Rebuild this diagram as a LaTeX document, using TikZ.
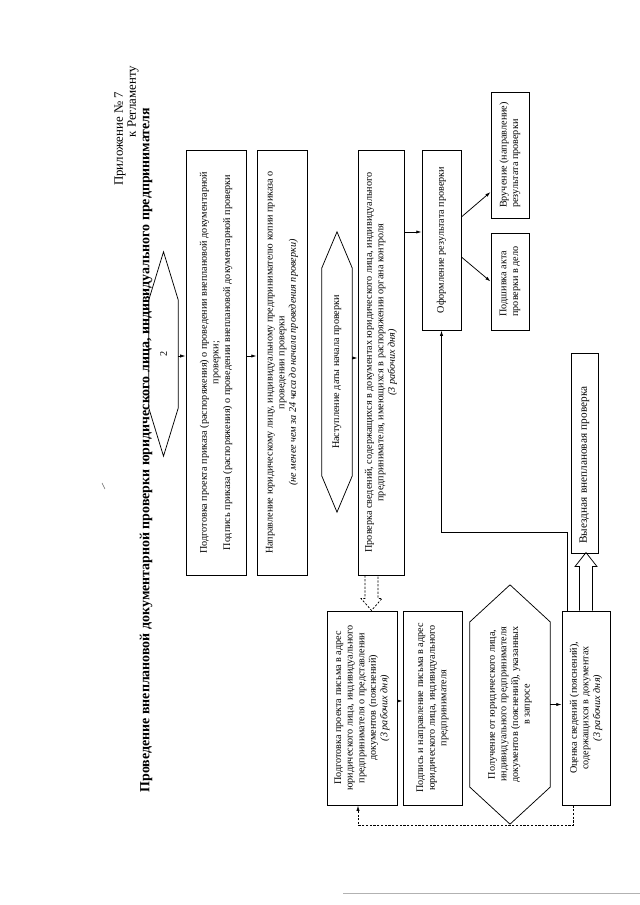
\documentclass[tikz,border=0pt]{standalone}
\usepackage{fontspec}
\setmainfont{Liberation Serif}
\usetikzlibrary{arrows.meta,calc}

\begin{document}
\begin{tikzpicture}[x=0.3281mm, y=0.3281mm, rotate=90, transform shape,
  box/.style={draw, line width=0.7pt, align=center, inner sep=1pt,
    font=\fontsize{9.5}{10.8}\selectfont},
  hexa/.style={align=center, inner sep=1pt, font=\fontsize{9.5}{10.8}\selectfont},
  arr/.style={line width=0.7pt, -{Latex[length=5pt,width=3pt]}},
  dsh/.style={dash pattern=on 2pt off 1.5pt}]
  \useasboundingbox (0,0) rectangle (905,-640);

  % heading
  \node[anchor=east, font=\fontsize{12}{14}\selectfont] (pril) at (817,-120) {Приложение № 7};
  \node[anchor=east, font=\fontsize{12}{14}\selectfont] (regl) at (843,-133) {к Регламенту};
  \node[font=\fontsize{13}{15}\selectfont\bfseries] (title) at (455,-146)
    {Проведение внеплановой документарной проверки юридического лица, индивидуального предпринимателя};

  % upper row
  \node[hexa, minimum width=35.4mm, minimum height=9.5mm] (hexb) at (551,-163.5) {2};
  \node[box, minimum width=139.5mm, minimum height=19.7mm] (prikaz) at (542.5,-216)
    {Подготовка проекта приказа (распоряжения) о проведении внеплановой документарной\\
     проверки;\\
     Подпись приказа (распоряжения) о проведении внеплановой документарной проверки};
  \node[box, minimum width=139.5mm, minimum height=16.4mm] (kopiya) at (542.5,-282)
    {Направление юридическому лицу, индивидуальному предпринимателю копии приказа о\\
     проведении проверки\\
     \textit{(не менее чем за 24 часа до начала проведения проверки)}};
  \node[hexa, minimum width=68.2mm, minimum height=9.8mm] (data) at (533,-337)
    {Наступление даты начала проверки};
  \node[box, minimum width=139.5mm, minimum height=15.1mm] (proverka) at (542.5,-381)
    {Проверка сведений, содержащихся в документах юридического лица, индивидуального\\
     предпринимателя, имеющихся в распоряжении органа контроля\\
     \textit{(3 рабочих дня)}};

  % result
  \node[box, minimum width=59.1mm, minimum height=12.8mm] (oform) at (665,-441.5)
    {Оформление результата проверки};
  \node[box, align=left, minimum width=41.3mm, minimum height=12.5mm] (vruch) at (750,-510)
    {Вручение (направление)\\ результата проверки};
  \node[box, align=left, minimum width=31.8mm, minimum height=12.5mm] (podsh) at (623.5,-510)
    {Подшивка акта\\ проверки в дело};
  \node[box, align=left, inner xsep=3mm, text width=59.6mm, minimum height=8.9mm,
    font=\fontsize{10.5}{12}\selectfont] (vyezd) at (452,-584.5)
    {Выездная внеплановая проверка};

  % request of documents
  \node[box, minimum width=63.7mm, minimum height=23mm] (pismo) at (197,-362)
    {Подготовка проекта письма в адрес\\
     юридического лица, индивидуального\\
     предпринимателя о представлении\\
     документов (пояснений)\\
     \textit{(3 рабочих дня)}};
  \node[box, minimum width=63.7mm, minimum height=19.4mm] (podpis) at (197,-432.5)
    {Подпись и направление письма в адрес\\
     юридического лица, индивидуального\\
     предпринимателя};
  \node[hexa, minimum width=54.1mm, minimum height=26.2mm] (poluch) at (200.5,-510)
    {Получение от юридического лица,\\
     индивидуального предпринимателя\\
     документов (пояснений), указанных\\
     в запросе};
  \node[box, minimum width=63.7mm, minimum height=15.7mm] (ocenka) at (197,-586)
    {Оценка сведений (пояснений),\\
     содержащихся в документах\\
     \textit{(3 рабочих дня)}};

  % hexagons
  \draw[line width=0.7pt] (hexb.north west) -- (hexb.north east) -- ($(hexb.east)+(48,0)$)
    -- (hexb.south east) -- (hexb.south west) -- ($(hexb.west)+(-48,0)$) -- cycle;
  \draw[line width=0.7pt] (data.north west) -- (data.north east) -- ($(data.east)+(36,0)$)
    -- (data.south east) -- (data.south west) -- ($(data.west)+(-36,0)$) -- cycle;
  \draw[line width=0.7pt] (poluch.north west) -- (poluch.north east) -- ($(poluch.east)+(37,0)$)
    -- (poluch.south east) -- (poluch.south west) -- ($(poluch.west)+(-37,0)$) -- cycle;

  % arrows
  \coordinate (sp) at (549,0);
  \coordinate (sd) at (547,0);
  \coordinate (so) at (673,0);
  \draw[arr] (sp |- hexb.south) -- (sp |- prikaz.north);
  \draw[arr] (sp |- prikaz.south) -- (sp |- kopiya.north);
  \draw[arr] (sd |- data.south) -- (sd |- proverka.north);
  \draw[arr] (so |- proverka.south) -- (so |- oform.north);
  \draw[arr] ($(oform.south)+(23,0)$) -- ($(vruch.north)+(-37,0)$);
  \draw[arr] ($(oform.south)+(-17,0)$) -- (podsh.north);

  \draw[dsh, line width=0.7pt] (proverka.west) ++(0,16) -- ++(-23,0) -- ++(0,4) -- ++(-12,-10.5)
    -- ++(12,-10.5) -- ++(0,4) -- ++(23,0);
  \draw[arr] ($(pismo.south)+(7,0)$) -- ($(podpis.north)+(7,0)$);
  \draw[arr] (poluch.south) -- (poluch.south |- ocenka.north);

  \draw[line width=0.7pt] (ocenka.east) ++(0,6.5) -- ++(44,0) -- ++(0,4.5) -- ++(14,-11)
    -- ++(-14,-11) -- ++(0,4.5) -- ++(-44,0);
  \draw[arr] ($(ocenka.east)+(0,19)$) -- ++(78,0) coordinate (t1) -- (t1 |- oform.west) -- (oform.west);

  \coordinate (t3) at ($(pismo.west)+(0,4)$);
  \draw[arr, dsh] ($(ocenka.west)+(0,13)$) -- ++(-20,0) coordinate (t2) -- (t2 |- t3) -- (t3);

  % scan marks
  \draw[black!60, line width=0.5pt] (422,-102) -- (416,-105);
  \draw[black!30, line width=0.5pt] (12,-343) -- (12,-640);
\end{tikzpicture}
\end{document}
